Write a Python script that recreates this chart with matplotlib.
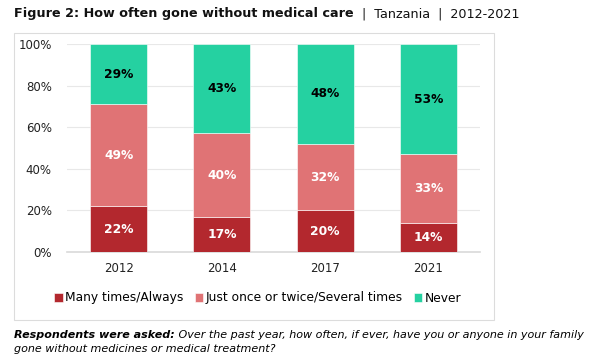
import matplotlib.pyplot as plt
from matplotlib.patches import Rectangle

years = ['2012', '2014', '2017', '2021']
many_times = [22, 17, 20, 14]
once_twice = [49, 40, 32, 33]
never = [29, 43, 48, 53]
series_names = ['Many times/Always', 'Just once or twice/Several times', 'Never']

colors = ['#B3282E', '#E07375', '#25D1A1']
label_colors = ['white', 'white', 'black']

plt.rcParams['font.family'] = ['DejaVu Sans']

fig = plt.figure(figsize=(5.92, 3.56), dpi=100)

# chart frame
fig.patches.append(Rectangle((14 / 592, 1 - 320 / 356), (494 - 14) / 592, (320 - 33) / 356,
                             transform=fig.transFigure, fill=False,
                             edgecolor='#DCDCDC', linewidth=0.8))

ax = fig.add_axes([67 / 592, 1 - 252 / 356, 413 / 592, 208 / 356])

x = range(len(years))
bottom = [0] * len(years)
for vals, name, col, lc in zip([many_times, once_twice, never], series_names, colors, label_colors):
    bars = ax.bar(x, vals, width=0.55, bottom=bottom, color=col, label=name,
                  edgecolor='white', linewidth=0.4, zorder=3)
    for i, b in enumerate(bars):
        ax.text(b.get_x() + b.get_width() / 2, bottom[i] + vals[i] / 2, f'{vals[i]}%',
                ha='center', va='center', color=lc, fontsize=8.8, fontweight='bold', zorder=4)
    bottom = [bottom[i] + vals[i] for i in range(len(years))]

ax.set_xlim(-0.5, 3.5)
ax.set_ylim(0, 100)
ax.set_yticks([0, 20, 40, 60, 80, 100])
ax.set_yticklabels([f'{t}%' for t in [0, 20, 40, 60, 80, 100]])
ax.set_xticks(list(x))
ax.set_xticklabels(years)
ax.tick_params(axis='y', length=0, labelsize=8.5, colors='#222222', pad=11)
ax.tick_params(axis='x', length=0, labelsize=8.5, colors='#222222', pad=7)
ax.grid(axis='y', color='#E8E8E8', linewidth=0.8, zorder=0)
for s in ['top', 'right', 'left']:
    ax.spines[s].set_visible(False)
ax.spines['bottom'].set_color('#D9D9D9')
ax.spines['bottom'].set_linewidth(1.2)

fig.legend(loc='center', bbox_to_anchor=(258 / 592, 1 - 298 / 356), ncol=3, frameon=False,
           fontsize=8.8, handlelength=0.7, handleheight=0.7, handletextpad=0.2,
           columnspacing=0.9)

t1 = fig.text(14 / 592, 1 - 14 / 356, 'Figure 2: How often gone without medical care', fontsize=9.2,
              fontweight='bold', va='center', ha='left', color='#111111')
ax.annotate('  |  Tanzania  |  2012-2021', xy=(1, 0.5), xycoords=t1, fontsize=9.2,
            va='center', ha='left', color='#111111', annotation_clip=False)

c1 = fig.text(14 / 592, 1 - 335 / 356, 'Respondents were asked:', fontsize=8, fontweight='bold',
              style='italic', va='center', ha='left')
ax.annotate(' Over the past year, how often, if ever, have you or anyone in your family',
            xy=(1, 0.5), xycoords=c1, fontsize=8, style='italic', va='center', ha='left',
            annotation_clip=False)
fig.text(14 / 592, 1 - 349 / 356, 'gone without medicines or medical treatment?', fontsize=8,
         style='italic', va='center', ha='left')

fig.savefig('out.png', dpi=100)
